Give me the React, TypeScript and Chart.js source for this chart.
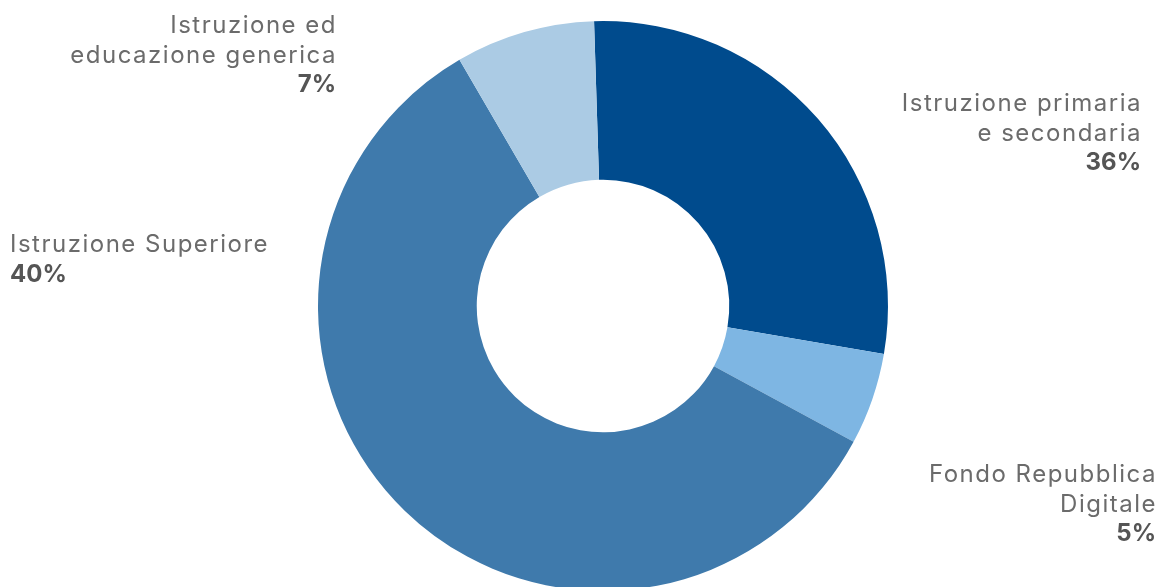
import React, { useEffect, useRef } from "react";
import { Chart, registerables } from "chart.js";

Chart.register(...registerables);

const categories = [
  "Istruzione primaria e secondaria",
  "Fondo Repubblica Digitale",
  "Istruzione Superiore",
  "Istruzione ed educazione generica",
];
const sliceValues = [28.2, 5.2, 58.7, 7.9];
const labelPercents = ["36%", "5%", "40%", "7%"];
const labelLines = [
  ["Istruzione primaria", "e secondaria"],
  ["Fondo Repubblica", "Digitale"],
  ["Istruzione Superiore"],
  ["Istruzione ed", "educazione generica"],
];
const sliceColors = ["#004b8d", "#7eb6e3", "#3f7aac", "#abcbe4"];

// label anchors relative to doughnut centre (dx, first baseline dy), alignment
const labelAnchors: { dx: number; dy: number; align: CanvasTextAlign }[] = [
  { dx: 539, dy: -195, align: "right" },
  { dx: 554, dy: 176, align: "right" },
  { dx: -593, dy: -54, align: "left" },
  { dx: -266, dy: -273, align: "right" },
];

const FONT = "Inter, 'Noto Sans', sans-serif";

const labelPlugin = {
  id: "cornerLabels",
  afterDraw(chart: any) {
    const meta = chart.getDatasetMeta(0);
    const arc = meta.data[0];
    if (!arc) return;
    const cx = arc.x;
    const cy = arc.y;
    const ctx = chart.ctx;
    ctx.save();
    ctx.textBaseline = "alphabetic";
    const lh = 29.5;
    labelLines.forEach((lines, i) => {
      const a = labelAnchors[i];
      ctx.textAlign = a.align;
      const x = cx + a.dx;
      let y = cy + a.dy;
      (ctx as any).letterSpacing = "1.5px";
      ctx.fillStyle = "#6b6b6b";
      ctx.font = `400 24px ${FONT}`;
      lines.forEach((t) => {
        ctx.fillText(t, x, y);
        y += lh;
      });
      (ctx as any).letterSpacing = "0px";
      ctx.fillStyle = "#555555";
      ctx.font = `700 24px ${FONT}`;
      ctx.fillText(labelPercents[i], a.align === "right" ? x - 1 : x, y);
    });
    ctx.restore();
  },
};

export default function App() {
  const ref = useRef<HTMLCanvasElement | null>(null);
  useEffect(() => {
    document.body.style.margin = "0";
    document.body.style.overflow = "hidden";
    const canvas = ref.current;
    if (!canvas) return;
    const chart = new Chart(canvas, {
      type: "doughnut",
      data: {
        labels: categories,
        datasets: [
          {
            data: sliceValues,
            backgroundColor: sliceColors,
            borderWidth: 0,
          },
        ],
      },
      options: {
        responsive: false,
        animation: false,
        rotation: -1.8,
        cutout: "44.3%",
        layout: { padding: { left: 318, right: 271, top: 21, bottom: 29 } },
        plugins: {
          legend: { display: false },
          tooltip: { enabled: false },
        },
      },
      plugins: [labelPlugin],
    });
    return () => chart.destroy();
  }, []);
  return (
    <div style={{ width: 1159, height: 587, overflow: "hidden", background: "#fff" }}>
      <canvas ref={ref} width={1159} height={620} style={{ display: "block" }} />
    </div>
  );
}
